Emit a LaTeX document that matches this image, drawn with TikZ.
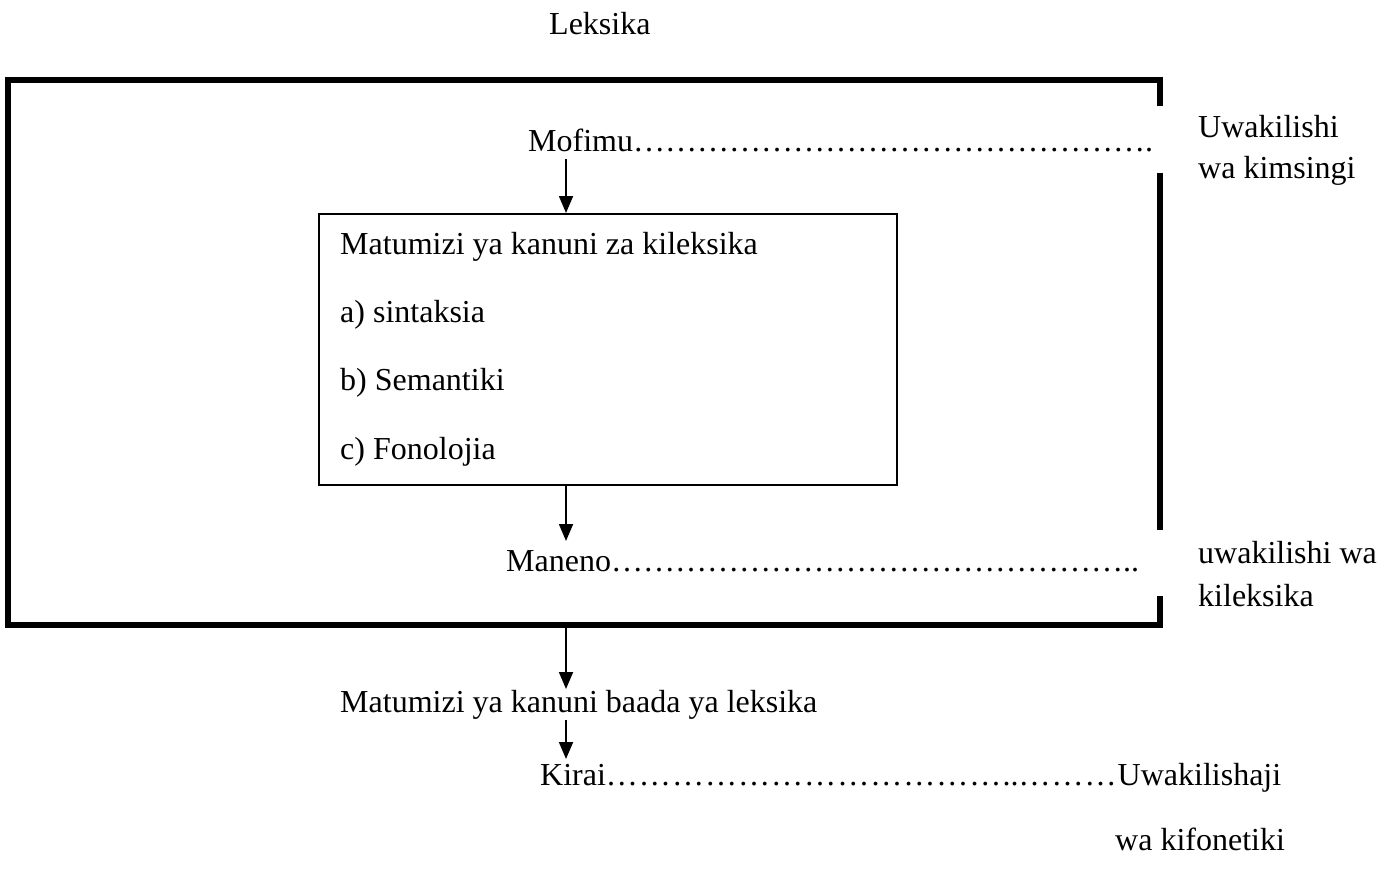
\documentclass[tikz,border=0pt]{standalone}
\usepackage{fontspec}
\setmainfont{Liberation Serif}
\usetikzlibrary{arrows.meta}
\newcommand{\ellrep}[1]{\foreach \k in {1,...,#1}{…}}
\newcommand{\ellwide}[1]{\foreach \k in {1,...,#1}{…\kern1.05pt}}
\begin{document}
\begin{tikzpicture}[x=1pt,y=-1pt,
  txt/.style={anchor=base west,inner sep=0pt,font=\fontsize{32}{38}\selectfont},
  thick box/.style={line width=6pt},
  flow/.style={line width=1.8pt,-{Triangle[length=17pt,width=14pt]}},
  innerbox/.style={draw,line width=1.6pt,minimum width=578pt,minimum height=271pt,anchor=north west,inner sep=0pt}]
\useasboundingbox (0,0) rectangle (1392,878);
% outer box with gaps on right side
\draw[thick box] (1160,106) -- (1160,80) -- (8,80) -- (8,625) -- (1160,625) -- (1160,596);
\draw[thick box] (1160,173) -- (1160,530);
% texts
\node[txt] (leksika) at (549,34) {Leksika};
\node[txt] (mofimu) at (528,151) {Mofimu\ellrep{16}.};
\node[txt] (uwk1) at (1198,137) {Uwakilishi};
\node[txt] (uwk2) at (1198,178) {wa kimsingi};
\node[innerbox] (inner) at (318,213) {};
\node[txt] (l1) at (340,254) {Matumizi ya kanuni za kileksika};
\node[txt] (l2) at (340,322) {a) sintaksia};
\node[txt] (l3) at (340,390) {b) Semantiki};
\node[txt] (l4) at (340,459) {c) Fonolojia};
\node[txt] (maneno) at (506,571) {Maneno\ellrep{16}..};
\node[txt] (uwl1) at (1198,563) {uwakilishi wa};
\node[txt] (uwl2) at (1198,606) {kileksika};
\node[txt] (baada) at (340,712) {Matumizi ya kanuni baada ya leksika};
\node[txt] (kirai) at (540,785) {Kirai\ellwide{12}..\ellwide{3}Uwakilishaji};
\node[txt] (fon) at (1115,850) {wa kifonetiki};
% arrows
\coordinate (ax) at (566,0);
\coordinate (a1) at (566,159);
\coordinate (a2) at (566,541);
\coordinate (a3) at (566,628);
\coordinate (a4) at (566,689);
\coordinate (a5) at (566,720);
\coordinate (a6) at (566,759);
\draw[flow] (a1) -- (inner.north -| ax);
\draw[flow] (inner.south -| ax) -- (a2);
\draw[flow] (a3) -- (a4);
\draw[flow] (a5) -- (a6);
\end{tikzpicture}
\end{document}
